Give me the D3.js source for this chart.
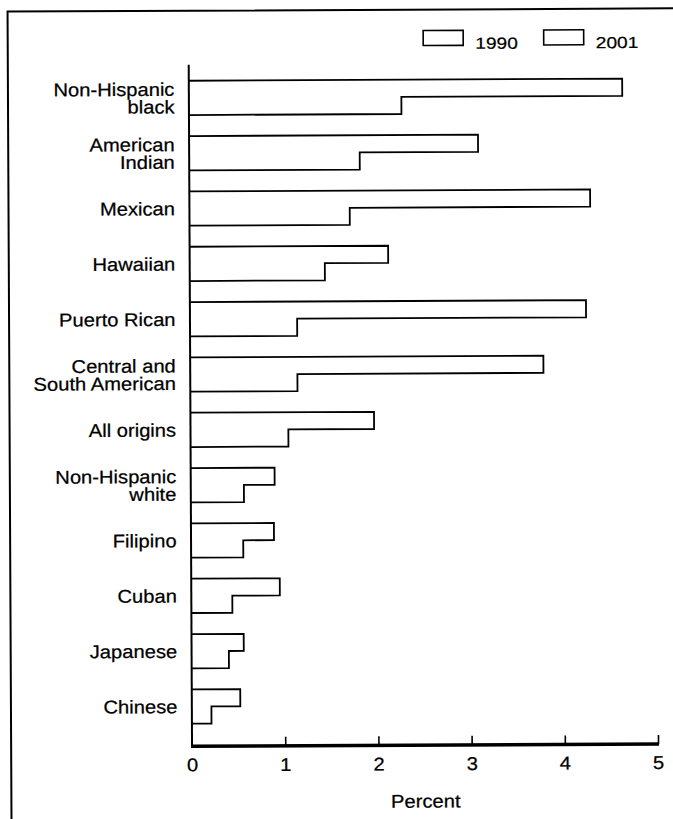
<!DOCTYPE html>
<html>
<head>
<meta charset="utf-8">
<script src="https://cdn.jsdelivr.net/npm/d3@7"></script>
<style>
  html, body { margin: 0; padding: 0; background: #fff; }
  svg { display: block; }
  text { font-family: "Liberation Sans", Arial, Helvetica, sans-serif; fill: #000; }
</style>
</head>
<body>
<script>
// ---- data ----
const categories = [
  ["Non-Hispanic", "black"],
  ["American", "Indian"],
  ["Mexican"],
  ["Hawaiian"],
  ["Puerto Rican"],
  ["Central and", "South American"],
  ["All origins"],
  ["Non-Hispanic", "white"],
  ["Filipino"],
  ["Cuban"],
  ["Japanese"],
  ["Chinese"]
];
const years = ["1990", "2001"];
const values1990 = [4.65, 3.10, 4.30, 2.13, 4.25, 3.79, 1.97, 0.90, 0.89, 0.95, 0.56, 0.52];
const values2001 = [2.28, 1.83, 1.72, 1.45, 1.15, 1.15, 1.05, 0.57, 0.56, 0.44, 0.40, 0.21];
const xTicks = [0, 1, 2, 3, 4, 5];
const xTitle = "Percent";

// ---- layout ----
const W = 673, H = 819;
const FS = 18.5, SX = 1.09;      // label font size and horizontal stretch
const svg = d3.select("body").append("svg").attr("width", W).attr("height", H);
const g = svg.append("g").attr("transform", "rotate(-0.28 336 410)");

const x = d3.scaleLinear().domain([0, 5]).range([190.4, 656.4]);
const keys = categories.map((c, i) => i);
const y = d3.scaleBand().domain(keys).range([59, 744]).paddingInner(0.38).paddingOuter(0.38);
const ySub = d3.scaleBand().domain(years).range([0, y.bandwidth()]);

// frame
g.append("path")
  .attr("d", `M9.5,${H + 5} V10 H${W + 5}`)
  .attr("fill", "none").attr("stroke", "#000").attr("stroke-width", 2);

// bars: combined step outline of 1990 (top) and 2001 (bottom)
const rows = keys.map(i => ({ i, v1990: values1990[i], v2001: values2001[i] }));
g.selectAll("path.bar").data(rows).enter().append("path")
  .attr("class", "bar")
  .attr("d", d => {
    const y0 = y(d.i), ym = y0 + ySub("2001"), y1 = y0 + y.bandwidth();
    return `M${x(0)},${y0} H${x(d.v1990)} V${ym} H${x(d.v2001)} V${y1} H${x(0)}`;
  })
  .attr("fill", "#fff").attr("stroke", "#000").attr("stroke-width", 1.8)
  .attr("stroke-linejoin", "miter");

// y axis line
g.append("line")
  .attr("x1", x(0)).attr("x2", x(0)).attr("y1", 64).attr("y2", 746)
  .attr("stroke", "#000").attr("stroke-width", 2);

// x axis
const axisY = 745.5;
const xAxis = d3.axisBottom(x).tickValues(xTicks).tickSize(0).tickPadding(12)
  .tickFormat(d3.format("d"));
const ax = g.append("g").attr("transform", `translate(0,${axisY})`).call(xAxis);
ax.select(".domain").attr("stroke", "#000").attr("stroke-width", 3.5)
  .attr("d", `M${x(0) - 1},0 H${x(5) + 1}`);
ax.selectAll(".tick line").remove();
ax.selectAll(".tick").filter(d => d > 0).append("line")
  .attr("y1", 0).attr("y2", -9).attr("stroke", "#000").attr("stroke-width", 1.6);
ax.selectAll(".tick text").attr("font-size", FS).attr("fill", "#000")
  .attr("transform", `scale(${SX},1)`)
  .attr("stroke", "#000").attr("stroke-width", 0.25)
  .style("font-family", "'Liberation Sans', Arial, sans-serif");

g.append("g")
  .attr("transform", `translate(${(x(0) + x(5)) / 2 + 0.5},808) scale(${SX},1)`)
  .append("text")
  .attr("text-anchor", "middle").attr("font-size", FS)
  .attr("stroke", "#000").attr("stroke-width", 0.25)
  .text(xTitle);

// category labels
const lab = g.selectAll("g.cat").data(rows).enter().append("g")
  .attr("class", "cat")
  .attr("transform", `translate(176,0) scale(${SX},1)`)
  .append("text")
  .attr("text-anchor", "end")
  .attr("font-size", FS)
  .attr("stroke", "#000").attr("stroke-width", 0.25);
lab.each(function (d) {
  const lines = categories[d.i];
  const cy = y(d.i) + y.bandwidth() / 2;
  const lh = 17.6;
  const start = cy - (lines.length - 1) * lh / 2 + 6.6;
  d3.select(this).selectAll("tspan").data(lines).enter().append("tspan")
    .attr("x", 0)
    .attr("y", (l, k) => start + k * lh)
    .text(l => l);
});

// legend
const legX = [425, 545.5];
const leg = g.selectAll("g.leg").data(years).enter().append("g").attr("class", "leg")
  .attr("transform", (d, i) => `translate(${legX[i]},31)`);
leg.append("rect").attr("x", 0).attr("y", 0).attr("width", 40).attr("height", 15)
  .attr("fill", "#fff").attr("stroke", "#000").attr("stroke-width", 1.6);
leg.append("g").attr("transform", "translate(52,18.5) scale(1.2,1)")
  .append("text").attr("font-size", 16)
  .attr("stroke", "#000").attr("stroke-width", 0.2)
  .text(d => d);
</script>
</body>
</html>
